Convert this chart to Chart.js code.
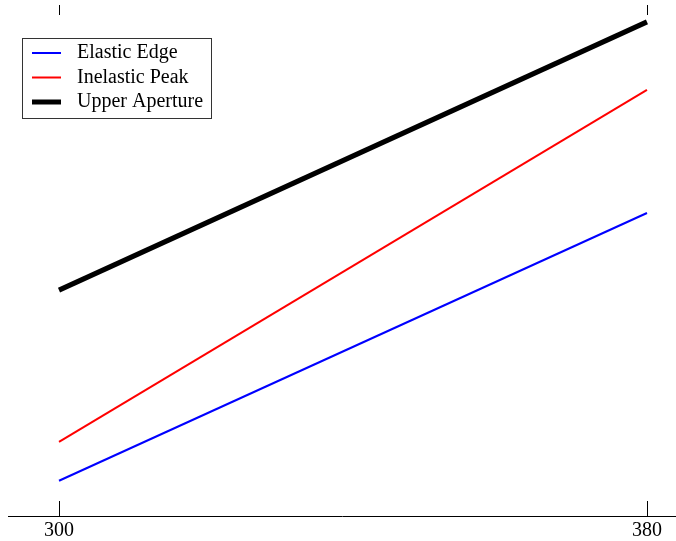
<!DOCTYPE html>
<html>
<head>
<meta charset="utf-8">
<script src="https://cdn.jsdelivr.net/npm/chart.js@4"></script>
<style>
  html, body { margin: 0; padding: 0; background: #fff; }
  #wrap { width: 676px; height: 541px; }
</style>
</head>
<body>
<div id="wrap"><canvas id="chart" width="676" height="541"></canvas></div>
<script>
const xValues = [300, 380];
const xTicks = [300, 380];
const elasticEdge = [6.9, 59.3];
const inelasticPeak = [14.5, 83.4];
const upperAperture = [44.2, 96.7];

const seriesNames = ["Elastic Edge", "Inelastic Peak", "Upper Aperture"];
const serif = "'Liberation Serif', 'DejaVu Serif', serif";

function toPoints(values) {
    return xValues.map((x, i) => ({ x, y: values[i] }));
}

// inward ticks on bottom and top, plus a boxed legend in the upper left
const decorations = {
    id: "decorations",
    afterDraw(chart) {
        const { ctx, chartArea } = chart;
        const xs = chart.scales.x;
        ctx.save();
        ctx.strokeStyle = "#000";
        ctx.lineWidth = 1;
        xTicks.forEach((t) => {
            const px = Math.round(xs.getPixelForValue(t)) + 0.5;
            ctx.beginPath();
            ctx.moveTo(px, chartArea.bottom);
            ctx.lineTo(px, chartArea.bottom - 15);
            ctx.moveTo(px, chartArea.top);
            ctx.lineTo(px, chartArea.top + 10);
            ctx.stroke();
        });

        const box = { x: 22.5, y: 38.5, w: 189, h: 80 };
        ctx.fillStyle = "#fff";
        ctx.fillRect(box.x, box.y, box.w, box.h);
        ctx.strokeStyle = "#333";
        ctx.strokeRect(box.x, box.y, box.w, box.h);

        ctx.font = "20px " + serif;
        ctx.textBaseline = "middle";
        chart.data.datasets.forEach((ds, i) => {
            const y = 53 + i * 24.5;
            ctx.strokeStyle = ds.borderColor;
            ctx.lineWidth = ds.borderWidth;
            ctx.beginPath();
            ctx.moveTo(32, y);
            ctx.lineTo(61, y);
            ctx.stroke();
            ctx.fillStyle = "#000";
            ctx.fillText(ds.label, 77, y);
        });
        ctx.restore();
    },
};

new Chart(document.getElementById("chart"), {
    type: "line",
    data: {
        datasets: [
            {
                label: seriesNames[0],
                data: toPoints(elasticEdge),
                borderColor: "#0000ff",
                borderWidth: 2,
                pointRadius: 0,
            },
            {
                label: seriesNames[1],
                data: toPoints(inelasticPeak),
                borderColor: "#ff0000",
                borderWidth: 2,
                pointRadius: 0,
            },
            {
                label: seriesNames[2],
                data: toPoints(upperAperture),
                borderColor: "#000000",
                borderWidth: 5,
                pointRadius: 0,
            },
        ],
    },
    options: {
        responsive: false,
        animation: false,
        layout: { padding: { left: 8, right: 0, top: 5, bottom: -5 } },
        plugins: {
            legend: { display: false },
            tooltip: { enabled: false },
        },
        scales: {
            x: {
                type: "linear",
                min: 293.06,
                max: 383.95,
                afterBuildTicks(scale) {
                    scale.ticks = xTicks.map((v) => ({ value: v }));
                },
                grid: { display: true, drawOnChartArea: false, drawTicks: false },
                border: { display: true, color: "#000", width: 1 },
                ticks: {
                    color: "#000",
                    padding: 4,
                    maxRotation: 0,
                    autoSkip: false,
                    font: { family: serif, size: 20, lineHeight: 1.1 },
                },
            },
            y: {
                display: false,
                min: 0,
                max: 100,
            },
        },
    },
    plugins: [decorations],
});
</script>
</body>
</html>
